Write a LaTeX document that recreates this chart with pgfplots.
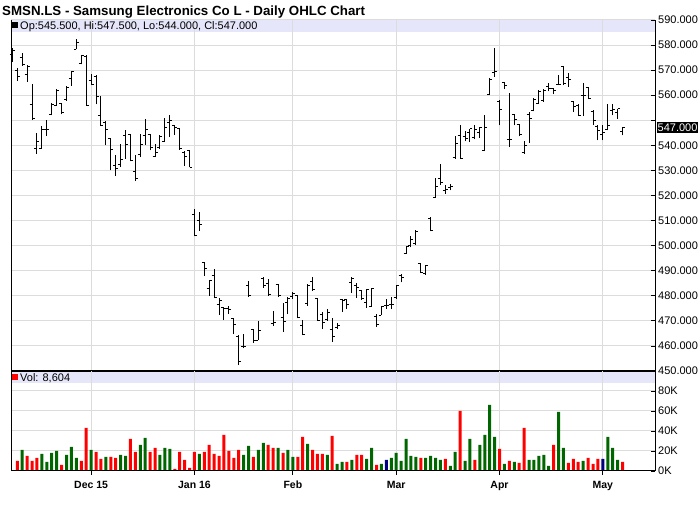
\documentclass[border=0pt]{standalone}
\usepackage{pgfplots}
\pgfplotsset{compat=1.18}
\usepackage{pgfplotstable}
\usepackage{fontspec}
\setmainfont{Liberation Sans}
\definecolor{bandc}{RGB}{230,230,250}
\definecolor{gridc}{RGB}{220,220,220}
\definecolor{vgreen}{RGB}{0,102,0}
\definecolor{vred}{RGB}{255,0,0}
\definecolor{vnavy}{RGB}{0,0,128}
\pgfdeclareplotmark{otick}{\pgfpathmoveto{\pgfqpoint{-2.5bp}{0pt}}\pgfpathlineto{\pgfqpoint{0pt}{0pt}}\pgfusepathqstroke}
\pgfdeclareplotmark{ctick}{\pgfpathmoveto{\pgfqpoint{0pt}{0pt}}\pgfpathlineto{\pgfqpoint{2.5bp}{0pt}}\pgfusepathqstroke}
\pgfdeclareplotmark{nomark}{}

\pgfplotstableread{
i O H L C V c
0 576.4 578.7 573.3 577.7 0 3
1 570 570.7 565.7 567.6 10 0
2 574.9 576.7 571.7 572.3 21 1
3 568.4 572 565.3 571.6 15 0
4 556.3 564.4 550.3 550.7 10 0
5 538.7 544.9 536.7 541.7 13 0
6 538.7 547.6 538.7 546.3 17 1
7 546.3 550 543.7 546.5 9 1
8 552.4 556.9 552 556.4 18 1
9 556 562.4 555.6 562 20 1
10 556.7 556.9 552.4 553.1 6 0
11 558.4 563.6 557.7 563.1 16 1
12 566.7 569.7 563.7 569.3 24 1
13 578.4 582.4 578.3 581.1 13 1
14 572.5 576 572.3 576 10 0
15 575.5 576 555.7 556 43 0
16 565.7 568.3 564 564.4 21 1
17 567.3 568 556.3 559.3 19 0
18 552 559.6 547.7 548 12 0
19 549.3 549.6 540 546.3 14 1
20 542.7 542.7 530 538.3 14 0
21 532 536 527.7 530.7 13 0
22 532.3 540.7 531.3 534.4 16 1
23 544 546 534.7 540.4 15 1
24 544.3 544.4 533.6 534 32 0
25 529.6 536 525.7 526.7 19 0
26 536.3 544.7 535.3 540.4 26 1
27 544 550.4 540.3 546.3 33 1
28 544.4 544.7 538 539 19 0
29 535.6 540.7 535.3 537 23 0
30 539 544.3 538.7 543.7 16 1
31 541.6 551 541.3 547.3 23 1
32 549 552 543.3 550 22 1
33 548 548.3 544.3 547.3 2 0
34 546.7 546.7 538.3 538.7 19 0
35 537.3 537.7 531.7 535.7 11 0
36 538 538 531.3 531.3 3 0
37 512.4 514.7 503.7 504 19 0
38 510 513.3 506 508.4 17 1
39 493.3 493.6 488 490.7 19 0
40 483 486.4 480 486 26 0
41 488 490.7 479 479.3 17 0
42 476.4 479.3 472.4 478.3 15 0
43 475.3 475.3 470.4 474.9 36 0
44 474.9 476 472.7 474.7 20 0
45 471 471.3 464.7 468.7 13 0
46 463.7 464.3 452.3 453.7 21 0
47 459.7 464.7 459 459.7 16 1
48 484 486 479.7 480.3 25 1
49 466.4 466.7 461.3 462 14 0
50 462.3 470 462.3 466.3 21 1
51 486.7 487.6 483.3 484 28 1
52 485 486.7 480 480.4 26 0
53 469 474 468 469.3 23 0
54 484.5 484.7 479.7 480 23 1
55 471.3 477.3 465.7 469.7 18 0
56 477.3 479.6 472.7 479 21 1
57 479.6 481.7 478.7 481 14 1
58 480 480 471 471.3 14 0
59 468 470.4 464.3 464.7 34 0
60 477 484.7 476 484 27 1
61 485.5 487.6 482 482.4 21 0
62 479 479.3 470 470.3 17 0
63 472.7 473.6 466.7 469.3 17 0
64 470.4 474.9 470 473.3 16 1
65 466.7 471.3 461.7 463.6 35 0
66 467.3 469.3 466.7 468.3 7 1
67 478.7 478.9 473.6 478 9 1
68 478.5 478.9 474.9 476.7 9 0
69 485.3 487.3 481.3 487 11 1
70 484.3 484.9 479.3 483.3 16 0
71 482 482 478.4 478.9 16 0
72 477.3 482.7 475.3 482.4 12 1
73 475.9 483.3 475.7 483 23 1
74 471.7 472.7 467.6 468.4 6 0
75 472.3 476 472.3 475.6 7 1
76 476 478.7 474.7 476 11 2
77 476.4 479.6 474.7 476.4 13 1
78 479.3 484.3 478.9 484 18 1
79 488 488.7 485.3 487.3 10 1
80 496.9 500 496.7 499.6 32 1
81 500 504 499.3 502.3 15 1
82 500.7 506.3 500.4 505.7 14 1
83 492.7 492.9 489 489.1 13 0
84 489 492.4 488.3 492 13 1
85 511 511.6 505.7 506 15 1
86 519.3 527 519 523.7 13 1
87 526.7 532.4 524.3 525 11 1
88 522 524.3 520.7 522.3 12 0
89 523.3 524.7 522 523.7 5 1
90 535 543.6 534.7 540.7 19 1
91 544 548 534.7 534.7 60 0
92 543.6 545.7 541.6 542.7 10 1
93 545 546.7 541.3 546.7 32 1
94 543.3 548 542.4 546.3 11 0
95 545.3 547.3 543 547 26 1
96 538 552 537.7 547.3 36 1
97 560.3 566.7 560.3 566.3 66 1
98 569 578.7 567.3 569.6 34 1
99 557.6 558 548 554.3 22 0
100 565 565.3 562.4 564 7 1
101 542.4 560.7 539.3 542.4 10 0
102 552.4 552.7 548 550.3 9 1
103 548.4 548.4 543.6 544.4 8 0
104 537.3 541.6 536.7 539.9 43 0
105 552.3 553.3 541 550.7 11 1
106 554 558.7 553.6 558.3 11 1
107 556.7 562 556.4 561.3 15 1
108 557.7 562.3 557.3 562 16 1
109 563.3 564.7 561.6 562.7 5 1
110 562.7 563 560.4 562 26 0
111 564.4 568 564 564.3 59 1
112 571.3 571.6 564 564.7 23 1
113 567 568.7 563.3 566.4 8 0
114 557.3 557.6 553.3 555.3 12 0
115 556 556.3 551.7 552 9 0
116 560 564.7 551.7 560 10 1
117 563 563.3 558.3 558.5 13 0
118 553.7 554 548.3 550 7 0
119 547.7 548 542 546 12 0
120 544.4 548 542 545 12 2
121 546.5 556.4 546 548 34 1
122 554 556.4 552 554.3 23 1
123 553.3 554.4 550.7 554.5 11 1
124 545.5 547.5 544 547 9 0
}\ohlc

\begin{document}
\begin{tikzpicture}
\path[use as bounding box] (0,0) rectangle (700bp,512bp);
% header bands (behind the grids)
\fill[bandc] (11bp,479.7bp) rectangle (655bp,491.5bp);
\fill[bandc] (11bp,128.7bp) rectangle (655bp,140bp);

% ---------- price panel ----------
\begin{axis}[
  at={(11bp,141bp)}, anchor=south west,
  width=644bp, height=351bp, scale only axis,
  xmin=-0.28, xmax=130.6, ymin=450, ymax=590,
  clip=false,
  axis line style={draw=none},
  xtick=\empty,
  extra x ticks={16,37,57,78,99,120},
  extra x tick labels={},
  extra x tick style={grid=major, major tick length=0pt},
  ytick={450,460,...,590},
  yticklabels={450.000,460.000,470.000,480.000,490.000,500.000,510.000,520.000,530.000,540.000,,560.000,570.000,580.000,590.000},
  ymajorgrids,
  ytick pos=right, yticklabel pos=right,
  tick align=inside, major tick length=4bp,
  tick style={black, line width=0.8bp},
  grid style={gridc, line width=1bp},
  yticklabel style={anchor=west, inner sep=0pt, xshift=3bp, font=\fontsize{11bp}{13bp}\selectfont},
]
\addplot[black, only marks, mark=nomark,
  error bars/.cd, y dir=plus, y explicit, error mark=none,
  error bar style={line width=1bp, black}]
  table[x=i, y=L, y error expr=\thisrow{H}-\thisrow{L}] {\ohlc};
\addplot[black, only marks, mark=otick, mark options={line width=1bp}] table[x=i, y=O] {\ohlc};
\addplot[black, only marks, mark=ctick, mark options={line width=1bp}] table[x=i, y=C] {\ohlc};
\draw[black, line width=1bp] (rel axis cs:0,0) -- (rel axis cs:0,1);
\draw[black, line width=1bp] (rel axis cs:1,0) -- (rel axis cs:1,1);
\draw[black, line width=2bp] (rel axis cs:0,0) -- (rel axis cs:1,0);
\end{axis}

% ---------- volume panel ----------
\begin{axis}[
  at={(11bp,41bp)}, anchor=south west,
  width=644bp, height=100bp, scale only axis,
  xmin=-0.28, xmax=130.6, ymin=0, ymax=100,
  clip=false,
  axis line style={draw=none},
  xtick=\empty,
  extra x ticks={16,37,57,78,99,120},
  extra x tick labels={Dec 15,Jan 16,Feb,Mar,Apr,May},
  extra x tick style={grid=major, xtick pos=bottom, tick align=outside, major tick length=4bp,
    xticklabel style={font=\fontsize{10.5bp}{12bp}\selectfont\bfseries, anchor=north, inner sep=0pt, yshift=-6bp}},
  ytick={0,20,40,60,80},
  yticklabels={0K,20K,40K,60K,80K},
  ymajorgrids,
  ytick pos=right, yticklabel pos=right,
  tick align=inside, major tick length=4bp,
  tick style={black, line width=0.8bp},
  grid style={gridc, line width=1bp},
  yticklabel style={anchor=west, inner sep=0pt, xshift=3bp, font=\fontsize{11bp}{13bp}\selectfont},
]
\addplot[ybar, bar width=3bp, bar shift=0pt, fill=vred, draw=none,
  restrict expr to domain={\thisrow{c}}{0:0}] table[x=i, y=V] {\ohlc};
\addplot[ybar, bar width=3bp, bar shift=0pt, fill=vgreen, draw=none,
  restrict expr to domain={\thisrow{c}}{1:1}] table[x=i, y=V] {\ohlc};
\addplot[ybar, bar width=3bp, bar shift=0pt, fill=vnavy, draw=none,
  restrict expr to domain={\thisrow{c}}{2:2}] table[x=i, y=V] {\ohlc};
\draw[black, line width=1bp] (rel axis cs:0,0) -- (rel axis cs:0,1);
\draw[black, line width=1bp] (rel axis cs:1,0) -- (rel axis cs:1,1);
\draw[black, line width=1bp] (rel axis cs:0,0) -- (rel axis cs:1,0);
\end{axis}

% ---------- texts ----------
\node[anchor=base west, inner sep=0pt, font=\fontsize{13.3bp}{15bp}\selectfont\bfseries]
  at (2bp,496bp) {SMSN.LS - Samsung Electronics Co L - Daily OHLC Chart};
\fill[black] (12bp,483.5bp) rectangle (17.5bp,489.5bp);
\node[anchor=base west, inner sep=0pt, font=\fontsize{11bp}{13bp}\selectfont]
  at (20bp,482.8bp) {Op:545.500, Hi:547.500, Lo:544.000, Cl:547.000};
\fill[vred] (12bp,131.5bp) rectangle (17.5bp,137.5bp);
\node[anchor=base west, inner sep=0pt, font=\fontsize{11bp}{13bp}\selectfont]
  at (20bp,130.5bp) {Vol: 8,604};
\node[anchor=west, fill=black, text=white, inner xsep=1bp, inner ysep=1.5bp,
  font=\fontsize{11bp}{13bp}\selectfont] at (656.5bp,384.5bp) {547.000};
\end{tikzpicture}
\end{document}
